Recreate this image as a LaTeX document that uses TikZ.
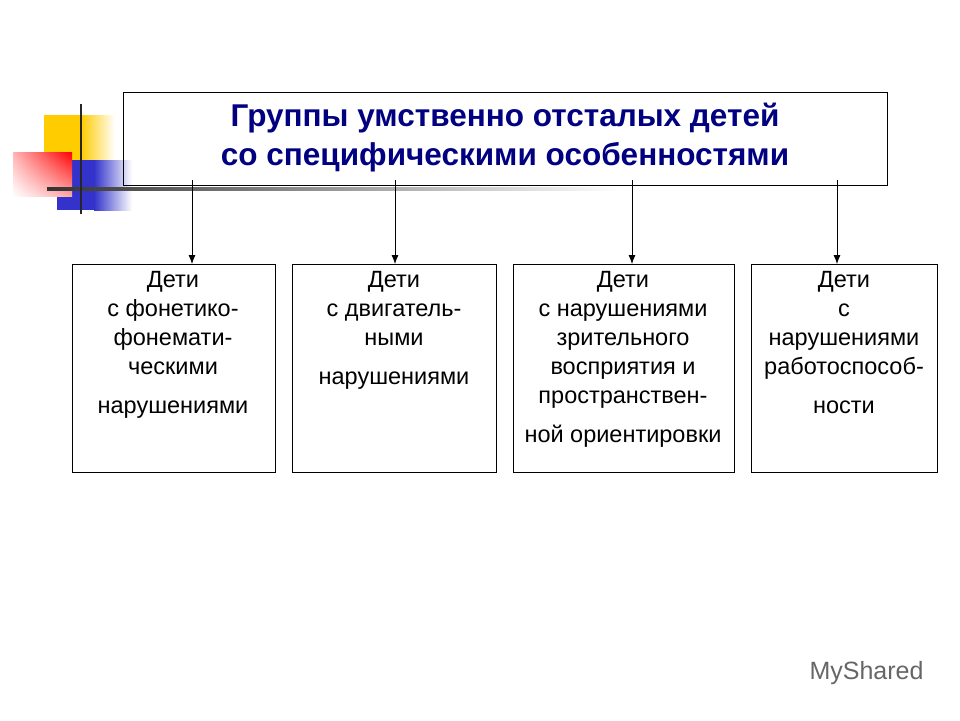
\documentclass[tikz,border=0pt]{standalone}
\usepackage{fontspec}
\setmainfont{Liberation Sans}
\usetikzlibrary{shadings,arrows.meta}
\definecolor{ygold}{HTML}{FFCC00}
\definecolor{dblue}{HTML}{3333CC}
\definecolor{navy}{HTML}{000080}
\begin{document}
\begin{tikzpicture}[x=1pt,y=-1pt,
  box/.style={draw,line width=0.8pt,anchor=north west,inner sep=0pt},
  btext/.style={anchor=north,align=center,font=\fontsize{23.5}{29}\selectfont},
  arr/.style={-{Latex[length=9pt,width=7pt]},line width=0.8pt}]
\useasboundingbox (0,0) rectangle (960,720);
% decoration
\fill[ygold] (44,115) rectangle (82,160);
\shade[left color=ygold,right color=white] (81,115) rectangle (115,160);
\fill[dblue] (57,160) rectangle (95,210);
\shade[left color=dblue,right color=white] (94,160) rectangle (132,210);
\shade[upper right=red,upper left=red!30,lower right=red!35,lower left=white] (13,152) rectangle (72,196);
\shade[left color=black!80,right color=white] (47,187) rectangle (620,190.5);
\draw[line width=2.5pt,black!85] (81,104) -- (81,214);
% title
\node[box,minimum width=764pt,minimum height=93pt] (t) at (123,92) {};
\node[align=center,font=\fontsize{31.5}{39}\bfseries\selectfont,text=navy] (tt) at (505,138)
 {Группы умственно отсталых детей\\со специфическими особенностями};
% boxes
\node[box,minimum width=203pt,minimum height=208pt] (b1) at (72,264) {};
\node[box,minimum width=204pt,minimum height=208pt] (b2) at (292,264) {};
\node[box,minimum width=221pt,minimum height=208pt] (b3) at (513,264) {};
\node[box,minimum width=186pt,minimum height=208pt] (b4) at (751,264) {};
\node[btext] (l1) at (173,268) {Дети\\ с фонетико-\\фонемати-\\ческими\\[10pt]нарушениями};
\node[btext] (l2) at (394,268) {Дети\\с двигатель-\\ными\\[10pt]нарушениями};
\node[btext] (l3) at (623,268) {Дети\\с нарушениями\\зрительного\\восприятия и\\пространствен-\\[10pt]ной ориентировки};
\node[btext] (l4) at (844,268) {Дети\\с\\нарушениями\\работоспособ-\\[10pt]ности};
% arrows
\coordinate (a1) at (192,180); \coordinate (a2) at (395,180);
\coordinate (a3) at (632,180); \coordinate (a4) at (837,180);
\draw[arr] (a1) -- (a1 |- b1.north);
\draw[arr] (a2) -- (a2 |- b2.north);
\draw[arr] (a3) -- (a3 |- b3.north);
\draw[arr] (a4) -- (a4 |- b4.north);
% watermark
\node[font=\fontsize{25}{25}\selectfont,text=black!60,anchor=west] (wm) at (806,673) {MyShared};
\end{tikzpicture}
\end{document}
